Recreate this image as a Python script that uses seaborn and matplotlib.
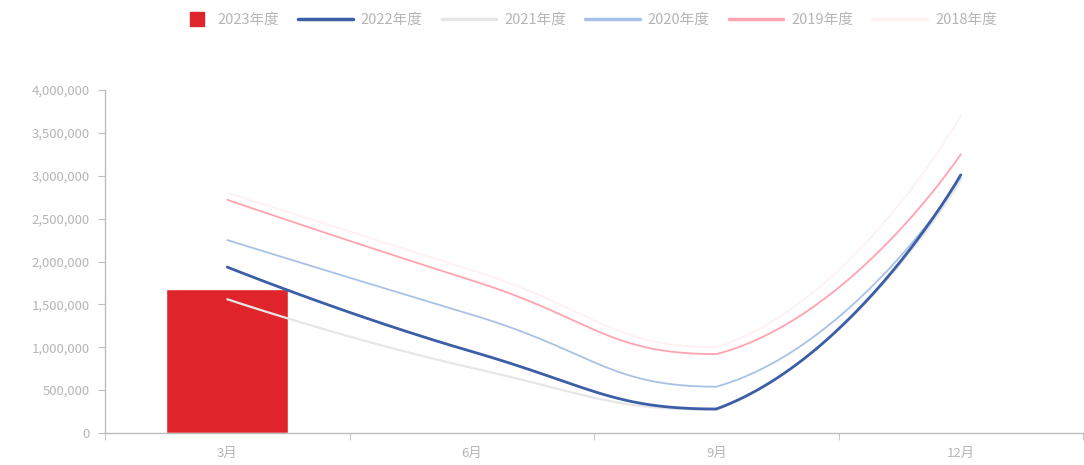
import numpy as np
import pandas as pd
import matplotlib
matplotlib.use("Agg")
import matplotlib.pyplot as plt
from matplotlib.lines import Line2D
from matplotlib.ticker import FuncFormatter, FixedLocator
import seaborn as sns

# Data
months = ["3月", "6月", "9月", "12月"]
bar_2023 = [1680000, np.nan, np.nan, np.nan]
line_2022 = [1935000, 950000, 280000, 3010000]
line_2021 = [1560000, 760000, 270000, 2950000]
line_2020 = [2250000, 1380000, 540000, 2970000]
line_2019 = [2720000, 1780000, 920000, 3250000]
line_2018 = [2800000, 1900000, 1000000, 3700000]

series = [
    ("2022年度", line_2022, "#3b5ea6", 2.0),
    ("2021年度", line_2021, "#e6e6e6", 1.6),
    ("2020年度", line_2020, "#a8c2e6", 1.3),
    ("2019年度", line_2019, "#ffa3b1", 1.3),
    ("2018年度", line_2018, "#fff0f2", 1.3),
]

sns.set_style("white")
plt.rcParams["font.family"] = ["Noto Sans CJK SC", "DejaVu Sans"]

label_color = "#b5b5b5"
axis_color = "#bdbdbd"

# pixel scale of the plot area, used so the smoothing works in screen space
PX_X = 247.0
PX_Y = 343.0 / 4000000


def smooth_line(ys, smooth=0.5, n=60):
    # bezier smoothing; end points are their own control points,
    # inner control points are clamped to the data bounding box
    pts = np.array([[i * PX_X, v * PX_Y] for i, v in enumerate(ys)])
    lo, hi = pts.min(axis=0), pts.max(axis=0)
    k = len(pts)
    cps = []
    for i in range(k):
        p = pts[i]
        if i == 0 or i == k - 1:
            cps.append((p, p))
            continue
        prev, nxt = pts[i - 1], pts[i + 1]
        v = (nxt - prev) * smooth
        d0 = np.linalg.norm(p - prev)
        d1 = np.linalg.norm(p - nxt)
        s = d0 + d1
        c0 = np.clip(p - v * d0 / s, lo, hi)
        c1 = np.clip(p + v * d1 / s, lo, hi)
        cps.append((c0, c1))
    t = np.linspace(0, 1, n)[:, None]
    xs_out, ys_out = [], []
    for i in range(k - 1):
        p0, p3 = pts[i], pts[i + 1]
        p1, p2 = cps[i][1], cps[i + 1][0]
        b = (1 - t) ** 3 * p0 + 3 * (1 - t) ** 2 * t * p1 + 3 * (1 - t) * t ** 2 * p2 + t ** 3 * p3
        xs_out.extend(b[:, 0] / PX_X)
        ys_out.extend(b[:, 1] / PX_Y)
    return np.array(xs_out), np.array(ys_out)


fig = plt.figure(figsize=(10.84, 4.65), dpi=100)
ax = fig.add_axes([105 / 1084, 32 / 465, 978 / 1084, 343 / 465])

df_bar = pd.DataFrame({"month": months, "value": bar_2023})
sns.barplot(data=df_bar, x="month", y="value", order=months, color="#e0242c",
            saturation=1, width=0.5, ax=ax, zorder=1)

for name, vals, color, lw in series[::-1]:
    sx_, sy_ = smooth_line(vals)
    ax.plot(sx_, sy_, color=color, lw=lw, zorder=3, solid_capstyle="round")

ax.set_xlim(-0.5, 3.5)
ax.set_ylim(0, 4000000)
ax.set_xlabel("")
ax.set_ylabel("")
ax.set_yticks(np.arange(0, 4000001, 500000))
ax.yaxis.set_major_formatter(FuncFormatter(lambda v, p: f"{int(v):,}"))
ax.set_xticks(range(len(months)))
ax.set_xticklabels(months)
ax.xaxis.set_minor_locator(FixedLocator(np.arange(-0.5, 3.6, 1.0)))
ax.tick_params(axis="x", which="major", length=0, pad=10, labelsize=9.5, labelcolor=label_color)
ax.tick_params(axis="x", which="minor", length=5, color=axis_color, direction="out")
ax.tick_params(axis="y", length=5, color=axis_color, direction="out", pad=6,
               labelsize=9.5, labelcolor=label_color)
ax.tick_params(bottom=True, left=True, which="both")

for side in ["top", "right"]:
    ax.spines[side].set_visible(False)
for side in ["left", "bottom"]:
    ax.spines[side].set_color(axis_color)
    ax.spines[side].set_linewidth(1)

# legend: bar entry on its own so its square handle stays short
leg_y = 1 - 20 / 465
bar_handle = [Line2D([0], [0], color="#e0242c", marker="s", markersize=9.5, linestyle="none")]
fig.legend(bar_handle, ["2023年度"], loc="center left", bbox_to_anchor=(190 / 1084, leg_y),
           frameon=False, fontsize=10.5, labelcolor=label_color, handlelength=1.0,
           handletextpad=0.9, borderpad=0, borderaxespad=0)

line_handles = [Line2D([0], [0], color=c, lw=2.5) for _, _, c, _ in series]
line_labels = [name for name, _, _, _ in series]
fig.legend(line_handles, line_labels, loc="center left", bbox_to_anchor=(298 / 1084, leg_y),
           ncol=5, frameon=False, fontsize=10.5, labelcolor=label_color, handlelength=3.75,
           handletextpad=0.55, columnspacing=1.3, borderpad=0, borderaxespad=0)

fig.savefig("out.png", dpi=100, facecolor="white")
